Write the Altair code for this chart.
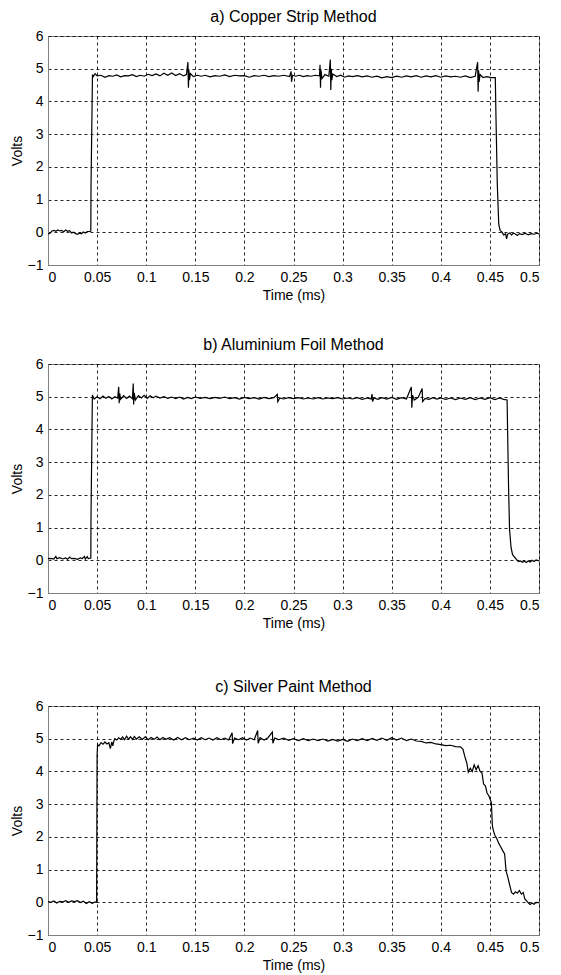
import altair as alt
import pandas as pd

panel_titles = ["a) Copper Strip Method", "b) Aluminium Foil Method", "c) Silver Paint Method"]
x_ticks = [0, 0.05, 0.1, 0.15, 0.2, 0.25, 0.3, 0.35, 0.4, 0.45, 0.5]
y_ticks = [-1, 0, 1, 2, 3, 4, 5, 6]

# a) Copper strip
t_a = [0.000, 0.002, 0.004, 0.006, 0.008, 0.010, 0.012, 0.014, 0.016, 0.018, 0.020, 0.022, 0.024, 0.026,
       0.028, 0.030, 0.032, 0.034, 0.036, 0.038, 0.040, 0.0436, 0.0438, 0.0453,
       0.046, 0.048, 0.050, 0.054, 0.058, 0.062, 0.066, 0.070, 0.074, 0.078, 0.082, 0.086, 0.090, 0.094,
       0.098, 0.102, 0.106, 0.110, 0.114, 0.118, 0.122, 0.126, 0.130, 0.134, 0.138, 0.141, 0.1425, 0.1430,
       0.1435, 0.1440, 0.1450, 0.148, 0.152, 0.156, 0.160, 0.165, 0.170, 0.175, 0.180, 0.185, 0.190, 0.195,
       0.200, 0.205, 0.210, 0.215, 0.220, 0.225, 0.230, 0.235, 0.240, 0.246, 0.2475, 0.2480, 0.2490, 0.252,
       0.256, 0.260, 0.264, 0.268, 0.272, 0.2765, 0.2770, 0.2775, 0.2780, 0.2790, 0.282, 0.286, 0.2875,
       0.2880, 0.2885, 0.2890, 0.2900, 0.294, 0.298, 0.302, 0.306, 0.310, 0.315, 0.320, 0.325, 0.330, 0.335,
       0.340, 0.345, 0.350, 0.355, 0.360, 0.365, 0.370, 0.375, 0.380, 0.385, 0.390, 0.395, 0.400, 0.405,
       0.410, 0.415, 0.420, 0.425, 0.430, 0.435, 0.4375, 0.4380, 0.4385, 0.4390, 0.4400, 0.443, 0.447,
       0.451, 0.4555, 0.4562, 0.4575, 0.4590, 0.4605, 0.4620, 0.464, 0.466, 0.467, 0.468, 0.470, 0.472,
       0.474, 0.476, 0.478, 0.480, 0.483, 0.486, 0.489, 0.492, 0.495, 0.498, 0.500]
v_a = [-0.05, -0.03, 0.04, 0.06, 0.03, 0.07, 0.04, 0.06, 0.02, 0.07, 0.03, 0.05, -0.02, 0.00,
       -0.04, -0.06, -0.03, -0.05, 0.01, -0.02, 0.02, 0.03, 1.38, 4.82,
       4.76, 4.85, 4.78, 4.80, 4.74, 4.79, 4.77, 4.81, 4.75, 4.79, 4.78, 4.82, 4.76, 4.80,
       4.77, 4.83, 4.79, 4.84, 4.78, 4.86, 4.80, 4.87, 4.79, 4.85, 4.78, 4.82, 5.20, 4.42,
       4.95, 4.65, 4.85, 4.76, 4.80, 4.77, 4.80, 4.75, 4.79, 4.77, 4.81, 4.76, 4.80, 4.78,
       4.79, 4.74, 4.79, 4.77, 4.80, 4.76, 4.79, 4.77, 4.80, 4.76, 4.92, 4.60, 4.80, 4.77,
       4.80, 4.76, 4.79, 4.77, 4.80, 4.78, 5.12, 4.42, 4.95, 4.70, 4.82, 4.77, 5.28,
       4.35, 5.00, 4.65, 4.84, 4.76, 4.80, 4.74, 4.78, 4.76, 4.79, 4.75, 4.78, 4.74, 4.77,
       4.72, 4.76, 4.73, 4.77, 4.74, 4.78, 4.75, 4.79, 4.74, 4.78, 4.75, 4.79, 4.74, 4.78,
       4.75, 4.77, 4.74, 4.78, 4.73, 4.77, 5.20, 4.30, 4.95, 4.60, 4.82, 4.73, 4.76,
       4.73, 4.73, 3.50, 1.50, 0.25, 0.05, 0.02, -0.08, -0.05, -0.20, -0.06, -0.02, -0.08,
       -0.03, -0.05, -0.10, -0.04, -0.07, -0.03, -0.08, -0.04, -0.06, -0.03, -0.05]

# b) Aluminium foil
t_b = [0.000, 0.003, 0.006, 0.008, 0.009, 0.012, 0.015, 0.018, 0.020, 0.022, 0.024, 0.027, 0.030, 0.033,
       0.035, 0.037, 0.038, 0.040, 0.041, 0.0436, 0.0438, 0.0452,
       0.047, 0.050, 0.053, 0.056, 0.059, 0.062, 0.065, 0.068, 0.071, 0.0720, 0.0725, 0.0730, 0.074, 0.077,
       0.080, 0.083, 0.086, 0.0868, 0.0872, 0.0878, 0.089, 0.092, 0.095, 0.098, 0.101, 0.104, 0.107, 0.110,
       0.114, 0.118, 0.122, 0.126, 0.130, 0.134, 0.138, 0.142, 0.146, 0.150, 0.155, 0.160, 0.165, 0.170,
       0.175, 0.180, 0.185, 0.190, 0.195, 0.200, 0.205, 0.210, 0.215, 0.220, 0.225, 0.230, 0.2335, 0.2340,
       0.236, 0.240, 0.245, 0.250, 0.255, 0.260, 0.265, 0.270, 0.275, 0.280, 0.285, 0.290, 0.295, 0.300,
       0.305, 0.310, 0.315, 0.320, 0.325, 0.329, 0.3300, 0.3305, 0.332, 0.336, 0.340, 0.345, 0.350, 0.355,
       0.360, 0.365, 0.3700, 0.3705, 0.3712, 0.373, 0.377, 0.3810, 0.3815, 0.384, 0.388, 0.392, 0.396,
       0.400, 0.405, 0.410, 0.415, 0.420, 0.425, 0.430, 0.435, 0.440, 0.445, 0.450, 0.455, 0.460, 0.464,
       0.4675, 0.4690, 0.4700, 0.4715, 0.4730, 0.475, 0.477, 0.479, 0.481, 0.483, 0.485, 0.487, 0.489,
       0.491, 0.493, 0.495, 0.497, 0.500]
v_b = [0.05, 0.06, 0.04, 0.12, 0.05, 0.08, 0.04, 0.07, 0.03, 0.10, 0.05, 0.06, 0.03, 0.07,
       0.05, 0.12, 0.04, 0.11, 0.05, 0.07, 1.35, 5.05,
       4.93, 5.00, 4.94, 5.02, 4.95, 5.01, 4.93, 5.00, 4.96, 5.30, 4.80, 5.10, 4.92, 5.03,
       4.95, 5.02, 4.94, 5.40, 4.76, 5.12, 4.90, 5.03, 4.96, 5.04, 4.95, 5.03, 4.97, 5.02,
       4.96, 5.00, 4.95, 4.99, 4.94, 4.99, 4.93, 4.98, 4.94, 4.99, 4.95, 4.98, 4.94, 4.98,
       4.95, 4.99, 4.94, 4.97, 4.93, 4.98, 4.94, 4.97, 4.93, 4.98, 4.94, 4.97, 5.07, 4.85,
       4.96, 4.93, 4.97, 4.94, 4.97, 4.93, 4.96, 4.93, 4.97, 4.93, 4.96, 4.94, 4.97, 4.93,
       4.96, 4.93, 4.97, 4.92, 4.96, 4.93, 5.08, 4.85, 4.96, 4.92, 4.97, 4.93, 4.98, 4.92,
       4.97, 4.93, 5.30, 4.66, 5.05, 4.90, 4.98, 5.25, 4.85, 4.95, 4.92, 4.97, 4.93,
       4.96, 4.92, 4.96, 4.91, 4.96, 4.92, 4.97, 4.91, 4.96, 4.92, 4.97, 4.91, 4.96, 4.92,
       4.90, 2.25, 0.95, 0.40, 0.18, 0.10, 0.03, -0.04, -0.02, -0.06, -0.03, -0.07, -0.02,
       -0.05, 0.00, -0.04, 0.01, -0.02]

# c) Silver paint
t_c = [0.000, 0.003, 0.006, 0.009, 0.012, 0.015, 0.018, 0.021, 0.024, 0.027, 0.030, 0.033, 0.036, 0.039,
       0.042, 0.045, 0.048, 0.0495, 0.0500, 0.0505, 0.052, 0.054, 0.056, 0.058, 0.060, 0.062, 0.0635,
       0.065, 0.066, 0.067, 0.068, 0.070, 0.072, 0.074, 0.076, 0.078, 0.080, 0.082, 0.084, 0.086, 0.088,
       0.090, 0.093, 0.096, 0.099, 0.102, 0.105, 0.108, 0.111, 0.114, 0.117, 0.120, 0.124, 0.128, 0.132,
       0.136, 0.140, 0.144, 0.148, 0.152, 0.156, 0.160, 0.164, 0.168, 0.172, 0.176, 0.180, 0.184, 0.1875,
       0.1880, 0.190, 0.194, 0.198, 0.202, 0.206, 0.210, 0.2135, 0.2140, 0.216, 0.220, 0.224, 0.2285,
       0.2290, 0.231, 0.235, 0.240, 0.245, 0.250, 0.255, 0.260, 0.265, 0.270, 0.275, 0.280, 0.285, 0.290,
       0.295, 0.300, 0.305, 0.310, 0.315, 0.320, 0.325, 0.330, 0.335, 0.340, 0.345, 0.350, 0.355, 0.360,
       0.365, 0.370, 0.375, 0.380, 0.385, 0.390, 0.395, 0.400, 0.405, 0.410, 0.415, 0.420, 0.4225, 0.4245,
       0.4265, 0.4280, 0.4300, 0.4320, 0.4340, 0.4360, 0.4380, 0.4400, 0.4420, 0.4435, 0.4455, 0.4470,
       0.4490, 0.4515, 0.4525, 0.4535, 0.4550, 0.4570, 0.4590, 0.4610, 0.4630, 0.4650, 0.4665, 0.4680,
       0.4700, 0.4720, 0.4740, 0.4760, 0.4780, 0.4800, 0.4820, 0.4840, 0.4855, 0.4875, 0.4895, 0.4910,
       0.4930, 0.4950, 0.4970, 0.5000]
v_c = [0.02, 0.00, 0.04, -0.02, 0.03, 0.01, 0.05, 0.00, 0.04, 0.02, 0.05, -0.01, 0.03, -0.04,
       0.02, -0.03, 0.01, 0.00, 4.50, 4.82, 4.78, 4.88, 4.83, 4.90, 4.84, 4.88, 4.70,
       4.90, 4.78, 4.92, 5.00, 4.96, 5.03, 4.98, 5.05, 4.97, 5.08, 4.99, 5.06, 4.98, 5.07,
       4.99, 5.06, 4.98, 5.06, 4.97, 5.04, 4.98, 5.05, 4.97, 5.04, 4.98, 5.03, 4.96, 5.04,
       4.97, 5.03, 4.97, 5.02, 4.96, 5.03, 4.97, 5.02, 4.96, 5.03, 4.97, 5.02, 4.96, 5.18,
       4.85, 5.02, 4.97, 5.03, 4.96, 5.02, 4.97, 5.25, 4.86, 5.03, 4.96, 5.03, 5.20,
       4.86, 5.02, 4.97, 5.02, 4.95, 5.00, 4.94, 5.00, 4.94, 4.99, 4.94, 4.99, 4.93, 4.98,
       4.93, 4.98, 4.92, 4.99, 4.94, 5.00, 4.94, 5.01, 4.95, 5.02, 4.95, 5.03, 4.96, 5.02,
       4.94, 4.99, 4.93, 4.92, 4.87, 4.89, 4.84, 4.82, 4.79, 4.80, 4.76, 4.75, 4.68, 4.45,
       4.25, 3.98, 4.10, 4.00, 4.20, 4.05, 4.18, 4.00, 3.95, 3.62, 3.55, 3.35,
       3.25, 3.05, 2.35, 2.20, 2.05, 1.95, 1.80, 1.70, 1.58, 1.48, 0.95, 0.80,
       0.55, 0.30, 0.25, 0.32, 0.28, 0.36, 0.25, 0.30, 0.10, 0.04, -0.03, -0.07,
       -0.02, -0.06, 0.00, -0.01]

FONT = "Liberation Sans"


def panel(t, v, title):
    df = pd.DataFrame({"t": t, "v": v})
    return alt.Chart(
        df,
        title=alt.TitleParams(title, fontSize=16, font=FONT, fontWeight="normal",
                              color="black", offset=4, anchor="middle"),
    ).mark_line(color="black", strokeWidth=1.2, clip=True).encode(
        x=alt.X("t:Q", scale=alt.Scale(domain=[0, 0.5], nice=False, zero=False),
                axis=alt.Axis(values=x_ticks, format="~g", title="Time (ms)")),
        y=alt.Y("v:Q", scale=alt.Scale(domain=[-1, 6], nice=False, zero=False),
                axis=alt.Axis(values=y_ticks, format="d", title="Volts", titlePadding=3)),
    ).properties(width=491, height=229)


pa = panel(t_a, v_a, panel_titles[0])
pb = panel(t_b, v_b, panel_titles[1])
pc = panel(t_c, v_c, panel_titles[2])

top = alt.vconcat(pa, pb, spacing=33)
chart = alt.vconcat(top, pc, spacing=47).properties(
    padding={"left": 1, "top": 0, "right": 5, "bottom": 0}
).configure_axis(
    grid=True,
    gridDash=[3, 3],
    gridColor="black",
    gridOpacity=0.85,
    domainColor="#808080",
    ticks=False,
    labelFont=FONT,
    labelFontSize=14,
    labelColor="black",
    labelPadding=5,
    titleFont=FONT,
    titleFontSize=14,
    titleFontWeight="normal",
    titleColor="black",
    titlePadding=4,
).configure_view(stroke="#808080", strokeWidth=1)

chart.save("out.html", embed_options={"renderer": "svg", "actions": False})
